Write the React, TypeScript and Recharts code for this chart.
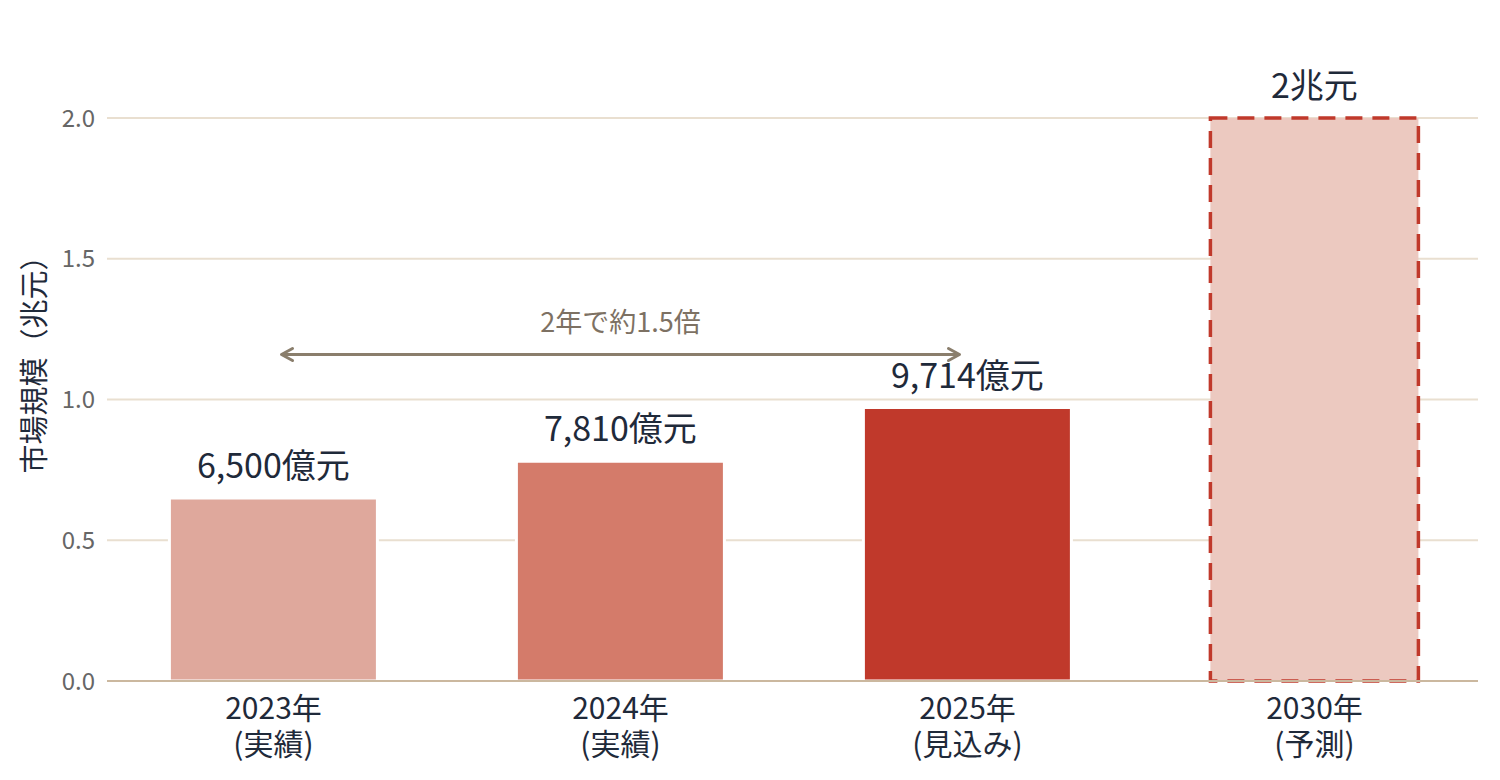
import React from 'react';
import { BarChart, Bar, XAxis, YAxis, CartesianGrid, Cell, LabelList, ReferenceLine } from 'recharts';

const years = ['2023年', '2024年', '2025年', '2030年'];
const notes = ['(実績)', '(実績)', '(見込み)', '(予測)'];
const marketSize = [0.65, 0.781, 0.9714, 2.0];
const valueLabels = ['6,500億元', '7,810億元', '9,714億元', '2兆元'];
const yTicks = [0, 0.5, 1.0, 1.5, 2.0];

const growthText = '2年で約1.5倍';
const growthLevel = 1.16;

const fillColors = ['#dfa89c', '#d47b6a', '#c0392b', '#ecc9c0'];
const FONT = "'Noto Sans CJK JP', 'Noto Sans', sans-serif";

const data = years.map((year, i) => ({
  year,
  note: notes[i],
  value: marketSize[i],
  label: valueLabels[i],
}));

function CategoryTick(props: any) {
  const { x, y, payload, index } = props;
  return (
    <g>
      <text x={x} y={y + 30} textAnchor="middle" fill="#1f2a3a" fontSize={30} fontFamily={FONT}>
        {payload.value}
      </text>
      <text x={x} y={y + 66} textAnchor="middle" fill="#1f2a3a" fontSize={30} fontFamily={FONT}>
        {notes[index]}
      </text>
    </g>
  );
}

function GrowthArrow(props: any) {
  const { x1, y1, x2 } = props;
  const l = x1 + 8;
  const r = x2 - 8;
  const c = '#8a7e6c';
  return (
    <g>
      <line x1={l} y1={y1} x2={r} y2={y1} stroke={c} strokeWidth={3} />
      <polyline points={`${l + 11},${y1 - 6} ${l},${y1} ${l + 11},${y1 + 6}`} fill="none" stroke={c} strokeWidth={3} strokeLinecap="round" strokeLinejoin="round" />
      <polyline points={`${r - 11},${y1 - 6} ${r},${y1} ${r - 11},${y1 + 6}`} fill="none" stroke={c} strokeWidth={3} strokeLinecap="round" strokeLinejoin="round" />
      <text x={(l + r) / 2} y={y1 - 22} textAnchor="middle" fill="#7d7163" fontSize={27} fontFamily={FONT}>
        {growthText}
      </text>
    </g>
  );
}

function AxisTitle(props: any) {
  const { viewBox } = props;
  const cx = 24;
  const cy = viewBox.y + viewBox.height / 2 - 42;
  return (
    <text x={cx} y={cy} transform={`rotate(-90 ${cx} ${cy})`} textAnchor="middle" dominantBaseline="central" fill="#1f2a3a" fontSize={29} fontFamily={FONT}>
      市場規模（兆元）
    </text>
  );
}

export default function App() {
  return (
    <div style={{ width: 1484, height: 764, background: '#fff' }}>
      <BarChart width={1484} height={764} data={data} margin={{ top: 110, right: 14, bottom: 11, left: 0 }} barCategoryGap="20%">
        <CartesianGrid vertical={false} stroke="#e9dfd0" strokeWidth={2} />
        <XAxis
          dataKey="year"
          interval={0}
          height={80}
          tickLine={false}
          axisLine={{ stroke: '#cbb89f', strokeWidth: 2 }}
          tick={<CategoryTick />}
          padding={{ left: -7, right: -10 }}
        />
        <YAxis
          width={99}
          domain={[0, 2]}
          ticks={yTicks}
          tickFormatter={(v: number) => v.toFixed(1)}
          axisLine={false}
          tickLine={false}
          tickMargin={6}
          tick={{ fill: '#666666', fontSize: 24, fontFamily: FONT }}
          label={{ content: <AxisTitle /> }}
        />
        <Bar dataKey="value" isAnimationActive={false}>
          {data.map((d, i) =>
            i === 3 ? (
              <Cell key={d.year} fill={fillColors[i]} stroke="#c0392b" strokeWidth={3.5} strokeDasharray="17 10" />
            ) : (
              <Cell key={d.year} fill={fillColors[i]} stroke="#ffffff" strokeWidth={3} />
            )
          )}
          <LabelList dataKey="label" position="top" offset={20} fill="#1f2a3a" fontSize={34} fontFamily={FONT} />
        </Bar>
        <ReferenceLine
          segment={[
            { x: years[0], y: growthLevel },
            { x: years[2], y: growthLevel },
          ]}
          shape={<GrowthArrow />}
        />
      </BarChart>
    </div>
  );
}
